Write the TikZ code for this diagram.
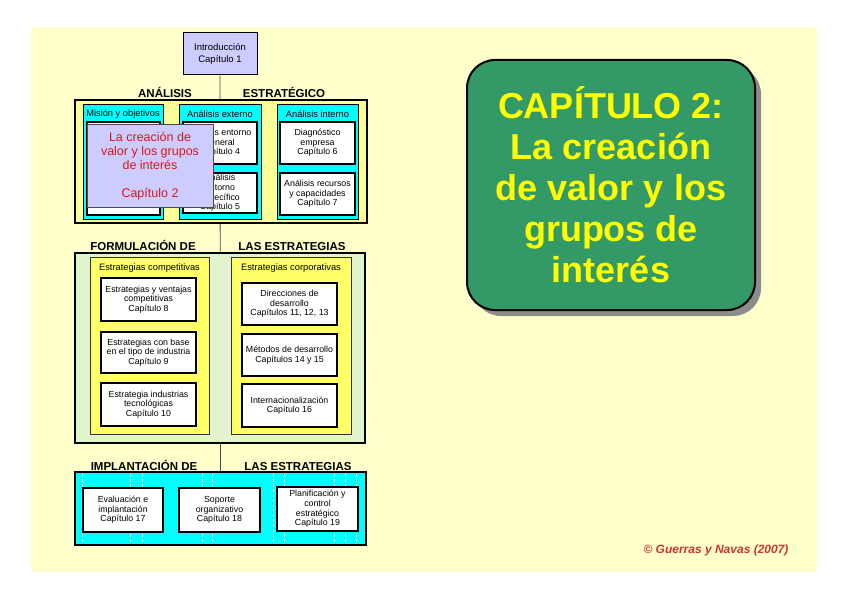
\documentclass[tikz,border=0pt]{standalone}
\usepackage{fontspec}
\setmainfont{Liberation Sans}
\usetikzlibrary{shadows}
\definecolor{PageCream}{HTML}{FFFFCC}
\definecolor{PaleYellow}{HTML}{FFFF99}
\definecolor{BoxYellow}{HTML}{FFFF66}
\definecolor{BoxCyan}{HTML}{00FFFF}
\definecolor{Lavender}{HTML}{CCCCFF}
\definecolor{TitleGreen}{HTML}{339966}
\definecolor{TitleYellow}{HTML}{FFFF00}
\definecolor{CreationRed}{HTML}{DD1515}
\definecolor{PaleGreen}{HTML}{E2F4CE}
\definecolor{CopyRed}{HTML}{CC3333}

\begin{document}
\begin{tikzpicture}[x=1pt,y=-1pt,
      chap/.style={draw,line width=1.2pt,fill=white,inner sep=0pt,align=center,
      font=\fontsize{8.8}{9.6}\selectfont},
      column/.style={draw,line width=1pt,inner sep=0pt},
      block/.style={draw,line width=2.4pt,inner sep=0pt},
      stage/.style={anchor=base,inner sep=0pt,font=\fontsize{11.5}{13}\selectfont\bfseries},
      colhead/.style={font=\fontsize{9.3}{10}\selectfont}]
      \useasboundingbox (0,0) rectangle (848,599);
      \fill[PageCream] (31,27) rectangle (817,572);
      % introduction and the spine
      \node[chap,fill=Lavender,line width=1pt,minimum width=74pt,minimum height=42pt,
      font=\fontsize{9.5}{11.5}\selectfont] (intro) at (220,54) {Introducción\\Capítulo 1};
      \node[block,fill=BoxCyan,minimum width=291pt,minimum height=73pt] (impl) at (220.5,508.5) {};
      \draw[black!70,line width=0.9pt] (intro.south) -- (impl.north);
      % analisis estrategico
      \node[stage] (anaL) at (165,97.5) {ANÁLISIS};
      \node[stage] (anaR) at (284,97.5) {ESTRATÉGICO};
      \node[block,fill=PaleYellow,minimum width=292pt,minimum height=123pt] (analisis) at (221,161.5) {};
      \node[column,fill=BoxCyan,minimum width=80pt,minimum height=114pt] (mision) at (123,162) {};
      \node[column,fill=BoxCyan,minimum width=82pt,minimum height=114pt] (externo) at (220,162) {};
      \node[column,fill=BoxCyan,minimum width=81pt,minimum height=114pt] (interno) at (317.5,162) {};
      \node[colhead] (misionT) at (123,114.5) {Misión y objetivos};
      \node[colhead] (externoT) at (220,114.5) {Análisis externo};
      \node[colhead] (internoT) at (317.5,114.5) {Análisis interno};
      \node[chap,minimum width=73pt,minimum height=93pt] (misionB) at (123.5,168.5) {};
      \node[chap,minimum width=74pt,minimum height=42pt] (cap4) at (220,143) {Análisis entorno\\general\\Capítulo 4};
      \node[chap,minimum width=74pt,minimum height=40pt] (cap5) at (220,193) {Análisis\\entorno\\específico\\Capítulo 5};
      \node[chap,minimum width=75pt,minimum height=42pt] (cap6) at (317.5,143) {Diagnóstico\\empresa\\Capítulo 6};
      \node[chap,minimum width=75pt,minimum height=42pt] (cap7) at (317.5,194) {Análisis recursos\\y capacidades\\Capítulo 7};
      \node[draw=black!70,line width=1pt,fill=Lavender,inner sep=0pt,minimum width=126pt,minimum height=82pt,
      align=center,text=CreationRed,font=\fontsize{12.5}{14}\selectfont] (cap2) at (150,166)
      {La creación de\\valor y los grupos\\de interés\\[14pt]Capítulo 2};
      % formulacion de las estrategias
      \node[stage] (formL) at (143,250) {FORMULACIÓN DE};
      \node[stage] (formR) at (292,250) {LAS ESTRATEGIAS};
      \node[block,fill=PaleGreen,minimum width=290pt,minimum height=190pt] (formulacion) at (220,348) {};
      \node[column,fill=BoxYellow,draw=black!80,minimum width=119pt,minimum height=177pt] (compet) at (149.5,345.5) {};
      \node[column,fill=BoxYellow,draw=black!80,minimum width=120pt,minimum height=177pt] (corpor) at (291,345.5) {};
      \node[colhead] (competT) at (149.5,268) {Estrategias competitivas};
      \node[colhead] (corporT) at (291,268) {Estrategias corporativas};
      \node[chap,minimum width=95pt,minimum height=43pt] (cap8) at (148.5,299.5) {Estrategias y ventajas\\competitivas\\Capítulo 8};
      \node[chap,minimum width=95pt,minimum height=41pt] (cap9) at (148.5,352.5) {Estrategias con base\\en el tipo de industria\\Capítulo 9};
      \node[chap,minimum width=95pt,minimum height=43pt] (cap10) at (148.5,404.5) {Estrategia industrias\\tecnológicas\\Capítulo 10};
      \node[chap,minimum width=95pt,minimum height=42pt] (cap11) at (289.5,304) {Direcciones de\\desarrollo\\Capítulos 11, 12, 13};
      \node[chap,minimum width=95pt,minimum height=42pt] (cap14) at (289.5,355) {Métodos de desarrollo\\Capítulos 14 y 15};
      \node[chap,minimum width=95pt,minimum height=43pt] (cap16) at (289.5,405.5) {Internacionalización\\Capítulo 16};
      % implantacion de las estrategias
      \node[stage] (implL) at (144,470.5) {IMPLANTACIÓN DE};
      \node[stage] (implR) at (298,470.5) {LAS ESTRATEGIAS};
      \foreach \x in {82,130,142,202,212,273,284,334,345,356}
        \draw[white,densely dashed,line width=0.5pt] (\x,474) -- (\x,543);
      \node[chap,minimum width=80pt,minimum height=44pt] (cap17) at (123,510) {Evaluación e\\implantación\\Capítulo 17};
      \node[chap,minimum width=81pt,minimum height=44pt] (cap18) at (219.5,510) {Soporte\\organizativo\\Capítulo 18};
      \node[chap,minimum width=81pt,minimum height=44pt] (cap19) at (317.5,509) {Planificación y\\control\\estratégico\\Capítulo 19};
      % chapter title
      \node[draw,line width=2pt,fill=TitleGreen,rounded corners=28pt,minimum width=288pt,minimum height=250pt,
      drop shadow={shadow xshift=6pt,shadow yshift=-6pt,fill=black!45,opacity=1},
      align=center,text=TitleYellow,font=\fontsize{36}{41}\selectfont\bfseries] (title) at (611,185)
      {CAPÍTULO 2:\\La creación\\de valor y los\\grupos de\\interés};
      \node[text=CopyRed,font=\fontsize{12}{14}\selectfont\bfseries\itshape] (autores) at (716,550) {© Guerras y Navas (2007)};
    \end{tikzpicture}
\end{document}
